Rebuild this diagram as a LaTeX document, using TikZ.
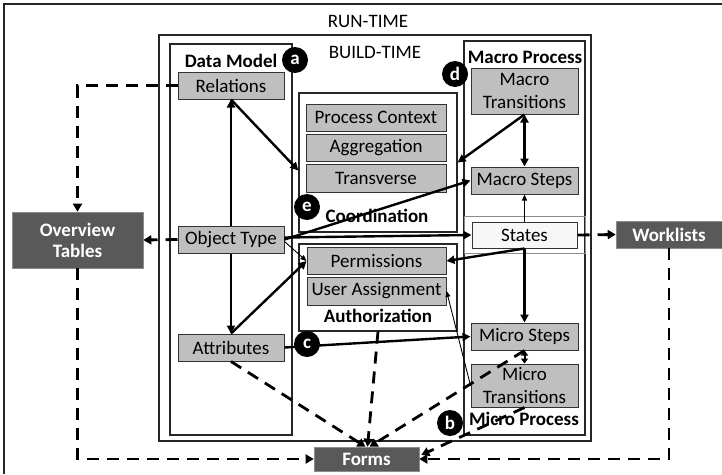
\documentclass[tikz,border=0pt]{standalone}
\usepackage{fontspec}
\setmainfont{Carlito}
\usetikzlibrary{arrows.meta,calc}
\begin{document}
\begin{tikzpicture}[x=1pt,y=-1pt,
  txt/.style={font=\fontsize{19}{23}\selectfont},
  bold/.style={font=\fontsize{19}{23}\selectfont\bfseries},
  frame/.style={draw=black!85, line width=1.3pt, fill=white, inner sep=0pt},
  gbox/.style={draw=black!80, line width=1pt, fill=black!25, inner sep=0pt,
    align=center, font=\fontsize{19}{23}\selectfont},
  wbox/.style={gbox, fill=black!3},
  dbox/.style={fill=black!65, draw=black!45, line width=0.6pt, text=white, inner sep=0pt,
    align=center, font=\fontsize{19}{21}\selectfont\bfseries},
  badge/.style={circle, fill=black, text=white, inner sep=0pt, minimum size=26pt,
    font=\fontsize{19}{19}\selectfont\bfseries},
  thickarrow/.style={line width=2.4pt, -{Triangle[length=8pt,width=8pt]}},
  bothways/.style={line width=2.4pt, {Triangle[length=8pt,width=8pt]}-{Triangle[length=8pt,width=8pt]}},
  thinarrow/.style={line width=0.9pt, -{Triangle[length=6pt,width=5pt]}},
  dasharrow/.style={line width=2.8pt, dash pattern=on 12pt off 8pt,
    -{Triangle[length=8pt,width=9pt]}}]
\useasboundingbox (0,0) rectangle (722,474);

% run-time and build-time frames
\draw[line width=1.3pt, black!85] (4,474) -- (4,4) -- (722,4);
\node[txt, anchor=base] (runtime) at (368,27) {RUN-TIME};
\node[frame, minimum width=432, minimum height=406] (build) at (375,238) {};
\node[txt, anchor=base] (buildtime) at (375,58) {BUILD-TIME};

% component frames
\node[frame, minimum width=122, minimum height=391] (datamodel) at (231,239.5) {};
\node[bold, anchor=base] (dmlabel) at (231,67) {Data Model};
\node[frame, minimum width=158, minimum height=139] (coord) at (378,162.5) {};
\node[bold, anchor=base] (coordlabel) at (377,222) {Coordination};
\node[frame, minimum width=158, minimum height=87] (auth) at (378,287.5) {};
\node[bold, anchor=base] (authlabel) at (378,322) {Authorization};
\node[frame, minimum width=121, minimum height=394] (macro) at (524.5,238) {};
\node[draw=black!45, line width=0.8pt, inner sep=0pt, minimum width=121, minimum height=37] (band) at (524.5,234.5) {};
\node[bold, anchor=base] (macrolabel) at (525,63) {Macro Process};
\node[bold, anchor=base] (microlabel) at (524,425) {Micro Process};

% data model
\node[gbox, minimum width=106, minimum height=27] (rel) at (231,85.5) {Relations};
\node[gbox, minimum width=106, minimum height=27] (ot) at (231,239.5) {Object Type};
\node[gbox, minimum width=106, minimum height=27] (attr) at (231,347.5) {Attributes};

% coordination
\node[gbox, minimum width=140, minimum height=27] (pc) at (376,117.5) {Process Context};
\node[gbox, minimum width=140, minimum height=27] (agg) at (376,147.5) {Aggregation};
\node[gbox, minimum width=140, minimum height=28] (trans) at (376,178) {Transverse};

% authorization
\node[gbox, minimum width=139, minimum height=27] (perm) at (376.5,261) {Permissions};
\node[gbox, minimum width=139, minimum height=28] (ua) at (376.5,291) {User Assignment};

% macro and micro process
\node[gbox, minimum width=107, minimum height=46] (mact) at (524.5,91) {Macro\\Transitions};
\node[gbox, minimum width=107, minimum height=27] (macs) at (524.5,180.5) {Macro Steps};
\node[wbox, minimum width=105, minimum height=26] (states) at (524.5,235) {States};
\node[gbox, minimum width=107, minimum height=27] (mics) at (524.5,336.5) {Micro Steps};
\node[gbox, minimum width=107, minimum height=43] (mict) at (524.5,385.5) {Micro\\Transitions};

% run-time clients
\node[dbox, minimum width=131, minimum height=56] (ovt) at (77.5,240) {Overview\\Tables};
\node[dbox, minimum width=106, minimum height=27] (wl) at (669,234.5) {Worklists};
\node[dbox, minimum width=105, minimum height=24] (forms) at (366.5,459) {Forms};

% build-time relationships
\draw[thickarrow] (ot.north) -- (rel.south);
\draw[thickarrow] (ot.south) -- (attr.north);
\draw[thickarrow] (rel.south) -- ($(coord.west)+(0,8)$);
\draw[thickarrow] (mact.south) -- (coord.east);
\draw[bothways] (mact.south) -- (macs.north);
\draw[thickarrow] (ot.east) -- (macs.west);
\draw[thickarrow] ($(ot.east)+(0,-2)$) -- (states.west);
\draw[thinarrow] ($(ot.east)+(0,2)$) -- (perm.west);
\draw[thickarrow] (attr.north) -- (perm.west);
\draw[thickarrow] (states.south) -- (perm.east);
\draw[thinarrow] (states.north) -- (macs.south);
\draw[thickarrow] (states.south) -- (mics.north);
\draw[thickarrow] (attr.east) -- (mics.west);
\draw[line width=2pt, {Triangle[length=5pt,width=7pt]}-{Triangle[length=5pt,width=7pt]}] (mics.south) -- (mict.north);
\draw[thinarrow] (mict.west) -- (ua.east);

% run-time relationships
\draw[dasharrow] (rel.west) -| (ovt.north);
\draw[dasharrow] (ot.west) -- (ovt.east);
\draw[dasharrow] (states.east) -- (wl.west);
\draw[dasharrow] (ovt.south) |- (forms.west);
\draw[dasharrow] (wl.south) |- (forms.east);
\draw[dasharrow] (attr.south) -- ($(forms.north)+(-1,0)$);
\draw[dasharrow] (auth.south) -- ($(forms.north)+(1,0)$);
\draw[dasharrow] (mics.south) -- ($(forms.north)+(3,0)$);
\draw[dasharrow] (mict.south) -- ($(forms.east)+(2,-4)$);

% badges
\node[badge] (ba) at (295,60) {a};
\node[badge] (bb) at (450,423) {b};
\node[badge] (bc) at (307,344) {c};
\node[badge] (bd) at (455,74) {d};
\node[badge] (be) at (307,207) {e};
\end{tikzpicture}
\end{document}
